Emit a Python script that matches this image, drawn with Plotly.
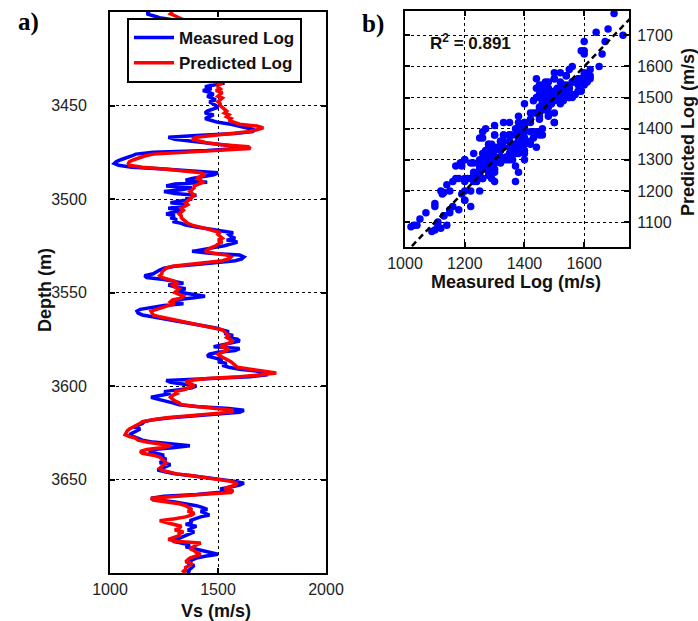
import plotly.graph_objects as go

# ---------------- data ----------------
depth_start = 3400  # m, 1 m sampling
measured_vs = [
    1185, 1170, 1200, 1230, 1280, 1320, 1350, 1380, 1400, 1420,
    1440, 1460, 1430, 1450, 1480, 1470, 1490, 1460, 1450, 1480,
    1500, 1470, 1460, 1490, 1510, 1480, 1470, 1500, 1520, 1490,
    1480, 1510, 1540, 1470, 1550, 1460, 1520, 1450, 1530, 1480,
    1440, 1470, 1430, 1460, 1480, 1450, 1470, 1490, 1460, 1480,
    1490, 1500, 1470, 1450, 1440, 1480, 1460, 1440, 1470, 1500,
    1560, 1600, 1640, 1670, 1660, 1580, 1400, 1270, 1300, 1380,
    1450, 1520, 1600, 1590, 1450, 1200, 1120, 1100, 1070, 1050,
    1030, 1020, 1040, 1100, 1250, 1400, 1500, 1480, 1420, 1380,
    1350, 1450, 1300, 1260, 1380, 1330, 1250, 1300, 1400, 1350,
    1380, 1320, 1280, 1350, 1300, 1270, 1330, 1290, 1260, 1300,
    1280, 1310, 1290, 1330, 1350, 1400, 1450, 1520, 1570, 1550,
    1560, 1580, 1540, 1590, 1560, 1530, 1480, 1420, 1380, 1460,
    1600, 1620, 1610, 1580, 1500, 1400, 1300, 1250, 1230, 1210,
    1200, 1160, 1170, 1250, 1290, 1340, 1270, 1300, 1350, 1320,
    1330, 1400, 1440, 1380, 1300, 1280, 1340, 1250, 1180, 1140,
    1125, 1130, 1150, 1200, 1260, 1300, 1350, 1400, 1450, 1490,
    1520, 1550, 1530, 1570, 1540, 1590, 1600, 1560, 1520, 1480,
    1600, 1580, 1500, 1460, 1450, 1480, 1520, 1500, 1540, 1520,
    1550, 1600, 1680, 1700, 1730, 1650, 1450, 1260, 1280, 1330,
    1400, 1380, 1320, 1250, 1280, 1230, 1190, 1220, 1260, 1290,
    1320, 1400, 1550, 1620, 1600, 1480, 1350, 1280, 1200, 1160,
    1150, 1130, 1110, 1140, 1120, 1100, 1090, 1110, 1130, 1150,
    1200, 1300, 1370, 1290, 1200, 1180, 1220, 1250, 1230, 1260,
    1250, 1230, 1280, 1260, 1240, 1220, 1260, 1300, 1380, 1450,
    1520, 1580, 1620, 1600, 1560, 1510, 1540, 1500, 1400, 1250,
    1190, 1220, 1300, 1360, 1400, 1430, 1450, 1420, 1440, 1460,
    1420, 1400, 1370, 1380, 1350, 1400, 1380, 1360, 1390, 1370,
    1350, 1320, 1300, 1290, 1330, 1370, 1350, 1390, 1420, 1460,
    1500, 1440, 1400, 1380, 1370, 1360, 1390, 1380, 1370, 1360, 1370,
]
predicted_vs = [
    1290, 1280, 1300, 1320, 1340, 1360, 1380, 1400, 1410, 1430,
    1450, 1460, 1450, 1460, 1470, 1480, 1480, 1470, 1470, 1480,
    1490, 1480, 1480, 1490, 1500, 1490, 1490, 1500, 1510, 1500,
    1500, 1510, 1520, 1500, 1530, 1490, 1510, 1500, 1520, 1500,
    1500, 1510, 1490, 1520, 1510, 1500, 1520, 1510, 1500, 1510,
    1510, 1520, 1530, 1540, 1530, 1550, 1540, 1560, 1550, 1580,
    1600, 1680, 1710, 1680, 1640, 1560, 1480, 1400, 1380, 1420,
    1450, 1520, 1640, 1650, 1500, 1300, 1200, 1160, 1130, 1110,
    1090, 1085, 1090, 1150, 1250, 1350, 1420, 1440, 1420, 1400,
    1420, 1430, 1410, 1390, 1390, 1380, 1370, 1380, 1390, 1380,
    1370, 1360, 1350, 1360, 1340, 1330, 1340, 1330, 1320, 1330,
    1330, 1340, 1350, 1360, 1380, 1420, 1450, 1480, 1510, 1500,
    1510, 1520, 1500, 1520, 1500, 1490, 1470, 1450, 1440, 1480,
    1540, 1560, 1550, 1520, 1450, 1370, 1290, 1260, 1250, 1240,
    1240, 1230, 1240, 1270, 1300, 1310, 1290, 1300, 1320, 1310,
    1300, 1320, 1340, 1330, 1290, 1280, 1300, 1270, 1240, 1220,
    1190, 1195, 1200, 1230, 1270, 1310, 1360, 1400, 1440, 1480,
    1520, 1530, 1540, 1550, 1540, 1560, 1570, 1550, 1530, 1510,
    1550, 1540, 1520, 1500, 1510, 1530, 1550, 1560, 1570, 1580,
    1590, 1650, 1720, 1770, 1700, 1600, 1450, 1370, 1350, 1380,
    1390, 1370, 1340, 1300, 1310, 1290, 1280, 1290, 1300, 1320,
    1330, 1400, 1500, 1570, 1560, 1450, 1340, 1260, 1200, 1150,
    1140, 1120, 1100, 1090, 1080, 1075, 1070, 1090, 1120, 1130,
    1170, 1230, 1280, 1240, 1170, 1140, 1150, 1200, 1230, 1240,
    1250, 1260, 1250, 1240, 1230, 1240, 1270, 1310, 1380, 1450,
    1500, 1560, 1590, 1580, 1550, 1530, 1570, 1560, 1420, 1280,
    1190, 1200, 1260, 1320, 1350, 1370, 1380, 1360, 1390, 1380,
    1350, 1300, 1230, 1260, 1300, 1330, 1320, 1300, 1340, 1320,
    1320, 1290, 1270, 1300, 1420, 1400, 1380, 1370, 1390, 1400,
    1420, 1390, 1370, 1360, 1350, 1380, 1360, 1350, 1350, 1340, 1350,
]
depths = [depth_start + i for i in range(len(measured_vs))]

depth_ticks = [3450, 3500, 3550, 3600, 3650]
vs_ticks = [1000, 1500, 2000]
meas_ticks = [1000, 1200, 1400, 1600]
pred_ticks = [1100, 1200, 1300, 1400, 1500, 1600, 1700]
r2_value = 0.891

# ---------------- figure ----------------
W, H = 698, 621
def fx(px):
    return px / W
def fy(py):
    return 1 - py / H

SANS = "Liberation Sans, Arial, sans-serif"
SERIF = "Liberation Serif, Times New Roman, serif"
BLUE = "#0000FF"
RED = "#FF0000"

fig = go.Figure()

fig.add_trace(go.Scatter(x=measured_vs, y=depths, mode="lines",
                         line=dict(color=BLUE, width=3.5), name="<b>Measured Log</b>",
                         xaxis="x", yaxis="y"))
fig.add_trace(go.Scatter(x=predicted_vs, y=depths, mode="lines",
                         line=dict(color=RED, width=3.5), name="<b>Predicted Log</b>",
                         xaxis="x", yaxis="y"))

fig.add_trace(go.Scatter(x=measured_vs, y=predicted_vs, mode="markers",
                         marker=dict(color=BLUE, size=7.5, line=dict(width=0)),
                         showlegend=False, xaxis="x2", yaxis="y2"))
fig.add_trace(go.Scatter(x=[1000, 1800], y=[1000, 1800], mode="lines",
                         line=dict(color="black", width=2.5, dash="6px,4px"),
                         showlegend=False, xaxis="x2", yaxis="y2"))

axis_common = dict(showline=True, linewidth=2, linecolor="black", mirror="ticks",
                   ticks="inside", ticklen=5, tickwidth=1.5, tickcolor="black",
                   showgrid=True, gridcolor="black", gridwidth=1, griddash="dot",
                   zeroline=False, automargin=False,
                   tickfont=dict(family=SANS, size=16, color="#222"))

fig.update_layout(
    template="none",
    width=W, height=H,
    margin=dict(l=0, r=0, t=0, b=0, pad=0),
    paper_bgcolor="white", plot_bgcolor="white",
    showlegend=True,
    legend=dict(x=fx(127), y=fy(18), xanchor="left", yanchor="top",
                bgcolor="white", bordercolor="black", borderwidth=2,
                font=dict(family=SANS, size=17, color="#111"),
                itemwidth=40, tracegroupgap=0),
    xaxis=dict(domain=[fx(110), fx(326)], range=[1000, 2000], tickvals=vs_ticks,
               anchor="y", ticklabelstandoff=1, **axis_common),
    yaxis=dict(domain=[fy(573), fy(12)], range=[3700, 3400], tickvals=depth_ticks,
               anchor="x", ticklabelstandoff=18, **axis_common),
    xaxis2=dict(domain=[fx(405), fx(629)], range=[1000, 1750], tickvals=meas_ticks,
                anchor="y2", ticklabelstandoff=1, **axis_common),
    yaxis2=dict(domain=[fy(247), fy(11)], range=[1020, 1778], tickvals=pred_ticks,
                anchor="x2", side="right", ticklabelstandoff=3, **axis_common),
)

title_font = dict(family=SANS, size=18, color="#111")
annotations = [
    dict(text="<b>Depth (m)</b>", x=fx(45), y=fy(290), textangle=-90, font=title_font),
    dict(text="<b>Vs (m/s)</b>", x=fx(216), y=fy(611), font=title_font),
    dict(text="<b>Measured Log (m/s)</b>", x=fx(516), y=fy(282), font=title_font),
    dict(text="<b>Predicted Log (m/s)</b>", x=fx(688), y=fy(132), textangle=-90, font=title_font),
    dict(text=f"<b>R<sup>2</sup> = {r2_value}</b>", x=fx(470), y=fy(42),
         font=dict(family=SANS, size=17, color="#111")),
    dict(text="<b>a)</b>", x=fx(28), y=fy(22), font=dict(family=SERIF, size=25, color="black")),
    dict(text="<b>b)</b>", x=fx(373), y=fy(24), font=dict(family=SERIF, size=25, color="black")),
]
for a in annotations:
    a.update(xref="paper", yref="paper", showarrow=False, xanchor="center", yanchor="middle")
fig.update_layout(annotations=annotations)

fig.write_html("out.html")
